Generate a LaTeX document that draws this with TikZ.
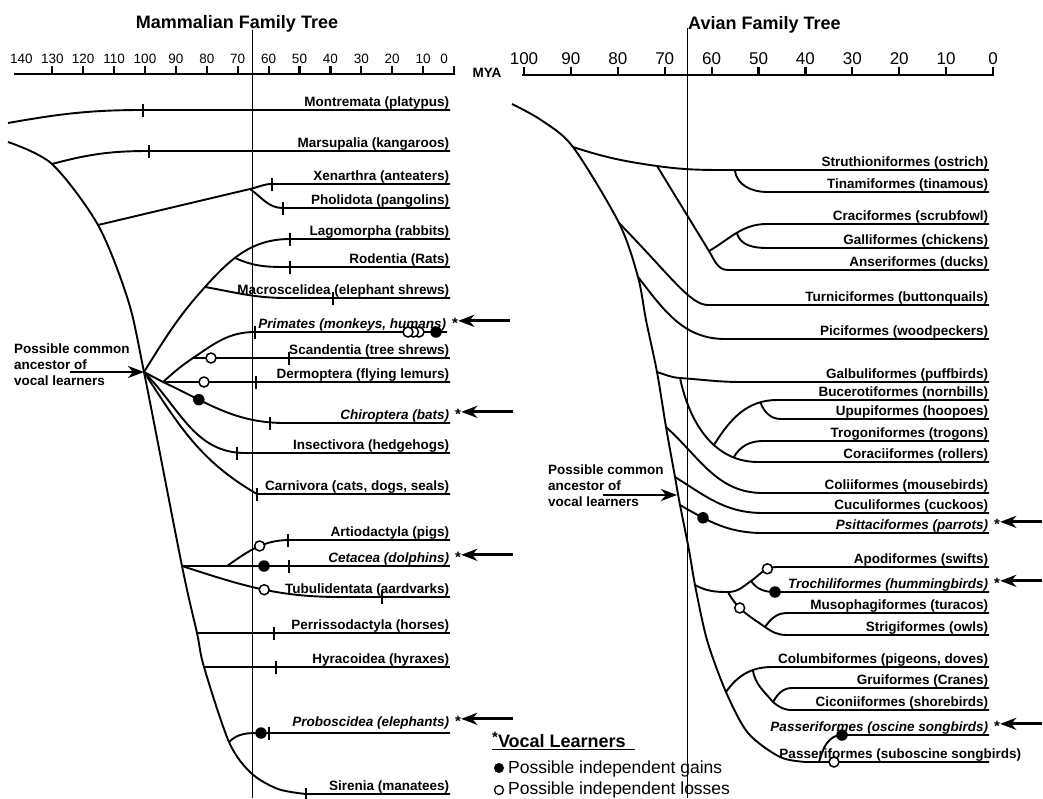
\documentclass[tikz,border=0pt]{standalone}
\usepackage{fontspec}
\setmainfont{Liberation Sans}
\usetikzlibrary{arrows.meta}

\newcommand{\labfont}{\fontsize{13.5}{16}\selectfont\bfseries}

\begin{document}
\begin{tikzpicture}[
    x=1pt, y=-1pt,
    branch/.style={line width=1.9pt},
    brk/.style={line width=1.6pt},
    lbl/.style={anchor=base east, inner sep=0pt, yshift=4pt, font=\labfont},
    vlbl/.style={lbl, font=\labfont\itshape},
    ast/.style={anchor=base west, inner sep=0pt, xshift=5pt, font=\fontsize{15}{16}\selectfont\bfseries},
    gain/.style={circle, fill=black, inner sep=0pt, minimum size=11.5pt},
    loss/.style={circle, draw=black, fill=white, line width=1.5pt, inner sep=0pt, minimum size=10pt},
    vocal/.style={-{Stealth[length=16pt,width=12pt,inset=5pt]}, line width=2.8pt},
    kpg/.style={line width=0.9pt},
    axis/.style={line width=2.6pt},
    axtick/.style={line width=2.2pt},
    anc/.style={align=left, anchor=north west, inner sep=0pt, font=\labfont},
    title/.style={font=\fontsize{18}{20}\selectfont\bfseries, inner sep=0pt}
]
\useasboundingbox (0,0) rectangle (1043,798);

% K-Pg boundary, 65 MYA
\draw[kpg] (252,30) -- (252,798);
\draw[kpg] (687,28) -- (687,798);

% Titles
\node[title, anchor=base] (tMam) at (237,28.5) {Mammalian Family Tree};
\node[title, anchor=base west] (tAvi) at (688,29.5) {Avian Family Tree};

% Time axes
\draw[axis] (14,74) -- (455,74);
\foreach \t in {0,10,...,130}
    \draw[axtick] ({454-3.09*\t},74) -- ++(0,-8);
\foreach \t in {10,20,...,140}
    \node[font=\fontsize{13.5}{15}\selectfont, anchor=base, inner sep=0pt] (mL\t) at ({454-3.09*\t},63.5) {\t};
\node[font=\fontsize{13.5}{15}\selectfont, anchor=base, inner sep=0pt] (mL0) at (444,63.5) {0};
\node[font=\labfont, anchor=base, inner sep=0pt] (mya) at (487,77) {MYA};

\draw[axis] (522,75) -- (994,75);
\foreach \t in {0,10,...,100}
    \draw[axtick] ({993-4.69*\t},75) -- ++(0,-8);
\foreach \t in {0,10,...,100}
    \node[font=\fontsize{17}{19}\selectfont, anchor=base, inner sep=0pt] (aL\t) at ({993-4.69*\t},64) {\t};

% ---------------- Mammals ----------------
\coordinate (eL) at (450,0);
\coordinate (eLp) at (447,0);
\coordinate (T0) at (8,142);
\coordinate (Tmar) at (52,164);
\coordinate (Txen) at (98,225);
\coordinate (T1) at (128,300);
\coordinate (Tanc) at (144,372);
\coordinate (Tcet) at (182,566);
\coordinate (Tper) at (197,633);
\coordinate (Thyr) at (204,667);
\coordinate (Tpro) at (229,742);
\coordinate (T2) at (251,773);
\coordinate (T3) at (278,789);
\coordinate (Tsir) at (306,794);
\draw[branch] plot[smooth] coordinates {(T0) (Tmar) (Txen) (T1) (Tanc) (Tcet) (Tper) (Thyr) (Tpro) (T2) (T3) (Tsir)}
    -- (Tsir -| eL) node[lbl] (lSir) {Sirenia (manatees)};

\coordinate (monA) at (8,123);
\coordinate (monS) at (143,110);
\draw[branch] (monA) to[out=10,in=180] (monS) -- (monS -| eL) node[lbl] (lMon) {Montremata (platypus)};
\coordinate (marS) at (149,151);
\draw[branch] (Tmar) to[out=15,in=180] (marS) -- (marS -| eL) node[lbl] (lMar) {Marsupalia (kangaroos)};

\coordinate (xenN) at (250,189);
\coordinate (xenS) at (272,184);
\coordinate (phoS) at (283,208);
\draw[branch] (Txen) -- (xenN) to[out=12,in=180] (xenS) -- (xenS -| eL) node[lbl] (lXen) {Xenarthra (anteaters)};
\draw[branch] (xenN) to[out=-35,in=180] (phoS) -- (phoS -| eL) node[lbl] (lPho) {Pholidota (pangolins)};

\coordinate (macN) at (205,287);
\coordinate (lagS) at (290,239);
\coordinate (rodS) at (290,267);
\coordinate (macS) at (287,298);
\draw[branch] (Tanc) to[out=58,in=228] (macN) to[out=48,in=180] node[coordinate,pos=0.4] (lagN) {} (lagS)
    -- (lagS -| eL) node[lbl] (lLag) {Lagomorpha (rabbits)};
\draw[branch] (lagN) to[out=-25,in=180] (rodS) -- (rodS -| eL) node[lbl] (lRod) {Rodentia (Rats)};
\draw[branch] (macN) to[out=-10,in=180] (macS) -- (macS -| eL) node[lbl] (lMac) {Macroscelidea (elephant shrews)};

\coordinate (euaN) at (163,382);
\coordinate (scaN) at (193,358);
\coordinate (priS) at (255,332);
\coordinate (chiS) at (285,423);
\draw[branch] (Tanc) -- (euaN) -- (euaN -| eL) node[lbl] (lDer) {Dermoptera (flying lemurs)};
\draw[branch] (euaN) to[out=42,in=214] (scaN) to[out=34,in=180] (priS) -- (priS -| eLp) node[vlbl] (lPri) {Primates (monkeys, humans)};
\draw[branch] (scaN) -- (scaN -| eL) node[lbl] (lSca) {Scandentia (tree shrews)};
\draw[branch] (euaN) to[out=-25,in=180] node[gain,pos=0.29] (gChi) {} (chiS) -- (chiS -| eL) node[vlbl] (lChi) {Chiroptera (bats)};

\coordinate (insS) at (245,453);
\coordinate (carS) at (257,494);
\draw[branch] (Tanc) to[out=-45,in=180] (insS) -- (insS -| eL) node[lbl] (lIns) {Insectivora (hedgehogs)};
\draw[branch] (Tanc) to[out=-57,in=150] (carS) -- (carS -| eL) node[lbl] (lCar) {Carnivora (cats, dogs, seals)};

\coordinate (artN) at (227,566);
\coordinate (artS) at (290,540);
\coordinate (tubS) at (340,597);
\draw[branch] (Tcet) -- (Tcet -| eL) node[vlbl] (lCet) {Cetacea (dolphins)};
\draw[branch] (artN) to[out=35,in=180] node[loss,pos=0.55] (oArt) {} (artS) -- (artS -| eL) node[lbl] (lArt) {Artiodactyla (pigs)};
\draw[branch] (Tcet) to[out=-18,in=180] node[loss,pos=0.53] (oTub) {} (tubS) -- (tubS -| eL) node[lbl] (lTub) {Tubulidentata (aardvarks)};
\draw[branch] (Tper) -- (Tper -| eL) node[lbl] (lPer) {Perrissodactyla (horses)};
\draw[branch] (Thyr) -- (Thyr -| eL) node[lbl] (lHyr) {Hyracoidea (hyraxes)};
\coordinate (proS) at (261,733);
\draw[branch] (Tpro) to[out=45,in=180] (proS) -- (proS -| eL) node[vlbl, yshift=3pt] (lPro) {Proboscidea (elephants)};

% divergence marks
\foreach \x/\y in {143/110,149/151,272/184,283/208,290/239,290/267,333/298,255/332,289/358,256/382,
                   270/423,237/453,257/494,288/540,289/566,382/597,274/633,276/667,269/733,306/794}
    \draw[brk] (\x,\y-6.5) -- (\x,\y+6.5);

% gains and losses
\node[loss] (oSca) at (211,358) {};
\node[loss] (oDer) at (204,382) {};
\node[loss] (oPri3) at (419,332) {};
\node[loss] (oPri2) at (413.5,332) {};
\node[loss] (oPri1) at (408,332) {};
\node[gain] (gPri) at (436,332) {};
\node[gain] (gCet) at (264,566) {};
\node[gain] (gPro) at (proS) {};

% vocal learners
\node[ast] (sPri) at (lPri.base east) {*};
\node[ast] (sChi) at (lChi.base east) {*};
\node[ast] (sCet) at (lCet.base east) {*};
\node[ast] (sPro) at (lPro.base east) {*};
\draw[vocal] ([xshift=52pt,yshift=2pt]sPri.east) -- ([yshift=2pt]sPri.east);
\draw[vocal] ([xshift=52pt,yshift=2pt]sChi.east) -- ([yshift=2pt]sChi.east);
\draw[vocal] ([xshift=52pt,yshift=2pt]sCet.east) -- ([yshift=2pt]sCet.east);
\draw[vocal] ([xshift=52pt,yshift=2pt]sPro.east) -- ([yshift=2pt]sPro.east);

\node[anc] (ancLt) at (14,344) {Possible common\\ancestor of\\vocal learners};
\coordinate (ancLa) at (70,372);
\draw[vocal] (ancLa) -- (Tanc);

% ---------------- Birds ----------------
\coordinate (eR) at (989,0);
\coordinate (R0) at (512,104);
\coordinate (R1) at (541,120);
\coordinate (Rstr) at (573,147);
\coordinate (Rtur) at (619,223);
\coordinate (Rpic) at (638,277);
\coordinate (R2) at (646,320);
\coordinate (Rgal) at (657,372);
\coordinate (Rcol) at (666,427);
\coordinate (Rcuc) at (675,477);
\coordinate (Rpsi) at (680,505);
\coordinate (R3) at (689,550);
\coordinate (Rapo) at (695,585);
\coordinate (R4) at (707,640);
\coordinate (Rclm) at (726,692);
\coordinate (R5) at (748,733);
\coordinate (R6) at (780,757);
\coordinate (Rsub) at (806,762);
\draw[branch] plot[smooth] coordinates {(R0) (R1) (Rstr) (Rtur) (Rpic) (R2) (Rgal) (Rcol) (Rcuc) (Rpsi) (R3) (Rapo) (R4) (Rclm) (R5) (R6) (Rsub)}
    -- (Rsub -| eR) node[lbl, xshift=33pt] (lSub) {Passeriformes (suboscine songbirds)};

\coordinate (galloN) at (657,166);
\coordinate (strN) at (735,170);
\coordinate (tinS) at (767,192);
\draw[branch] (Rstr) to[out=-18,in=172] (galloN) to[out=-8,in=180] (strN) -- (strN -| eR) node[lbl] (lStr) {Struthioniformes (ostrich)};
\draw[branch] (strN) to[out=-85,in=180] (tinS) -- (tinS -| eR) node[lbl] (lTin) {Tinamiformes (tinamous)};

\coordinate (ansN) at (709,251);
\coordinate (ansS) at (728,270);
\coordinate (craS) at (767,224);
\coordinate (galS) at (767,248);
\draw[branch] (galloN) -- (ansN) to[out=-59,in=180] (ansS) -- (ansS -| eR) node[lbl] (lAns) {Anseriformes (ducks)};
\draw[branch] (ansN) to[out=30,in=180] node[coordinate,pos=0.5] (galN) {} (craS) -- (craS -| eR) node[lbl] (lCra) {Craciformes (scrubfowl)};
\draw[branch] (galN) to[out=-75,in=180] (galS) -- (galS -| eR) node[lbl] (lGal) {Galliformes (chickens)};

\coordinate (turS) at (708,305);
\coordinate (picS) at (725,339);
\draw[branch] (Rtur) .. controls (670,275) and (690,305) .. (turS) -- (turS -| eR) node[lbl] (lTur) {Turniciformes (buttonquails)};
\draw[branch] (Rpic) to[out=-52,in=180] (picS) -- (picS -| eR) node[lbl] (lPic) {Piciformes (woodpeckers)};

\coordinate (bigN) at (680,378);
\coordinate (galbS) at (742,382);
\coordinate (corS) at (758,462);
\coordinate (bucS) at (777,400);
\coordinate (upuS) at (781,419);
\coordinate (troS) at (763,441);
\draw[branch] (Rgal) to[out=-18,in=176] (bigN) to[out=-4,in=180] (galbS) -- (galbS -| eR) node[lbl] (lGalb) {Galbuliformes (puffbirds)};
\draw[branch] (bigN) to[out=-78,in=180] node[coordinate,pos=0.6] (bucN) {} node[coordinate,pos=0.8] (trgN) {} (corS)
    -- (corS -| eR) node[lbl] (lCor) {Coraciiformes (rollers)};
\draw[branch] (bucN) to[out=58,in=180] node[coordinate,pos=0.8] (upuN) {} (bucS) -- (bucS -| eR) node[lbl] (lBuc) {Bucerotiformes (nornbills)};
\draw[branch] (upuN) to[out=-70,in=180] (upuS) -- (upuS -| eR) node[lbl] (lUpu) {Upupiformes (hoopoes)};
\draw[branch] (trgN) to[out=60,in=180] (troS) -- (troS -| eR) node[lbl] (lTro) {Trogoniformes (trogons)};

\coordinate (colS) at (763,493);
\coordinate (cucS) at (763,513);
\coordinate (psiS) at (763,533);
\draw[branch] (Rcol) to[out=-42,in=180] (colS) -- (colS -| eR) node[lbl] (lCol) {Coliiformes (mousebirds)};
\draw[branch] (Rcuc) to[out=-32,in=180] (cucS) -- (cucS -| eR) node[lbl] (lCuc) {Cuculiformes (cuckoos)};
\draw[branch] (Rpsi) to[out=-30,in=180] node[gain,pos=0.28] (gPsi) {} (psiS) -- (psiS -| eR) node[vlbl] (lPsi) {Psittaciformes (parrots)};

\coordinate (capN) at (728,592);
\coordinate (apoN) at (751,581);
\coordinate (apoS) at (776,567);
\coordinate (trcS) at (775,592);
\coordinate (musN) at (765,627);
\coordinate (musS) at (787,613);
\coordinate (strgS) at (787,635);
\draw[branch] (Rapo) to[out=-28,in=180] (capN) to[out=0,in=215] (apoN) to[out=35,in=180] node[loss,pos=0.7] (oApo) {} (apoS)
    -- (apoS -| eR) node[lbl] (lApo) {Apodiformes (swifts)};
\draw[branch] (apoN) to[out=-55,in=180] (trcS) -- (trcS -| eR) node[vlbl] (lTrc) {Trochiliformes (hummingbirds)};
\node[gain] (gTrc) at (trcS) {};
\draw[branch] (capN) to[out=-62,in=145] node[loss,pos=0.38] (oMus) {} (musN) to[out=-35,in=180] (strgS)
    -- (strgS -| eR) node[lbl] (lStrg) {Strigiformes (owls)};
\draw[branch] (musN) to[out=55,in=180] (musS) -- (musS -| eR) node[lbl] (lMus) {Musophagiformes (turacos)};

\coordinate (clmS) at (772,667);
\coordinate (ciN) at (773,702);
\coordinate (gruS) at (792,688);
\coordinate (cicS) at (792,710);
\draw[branch] (Rclm) to[out=55,in=180] node[coordinate,pos=0.65] (gruN) {} (clmS) -- (clmS -| eR) node[lbl] (lClm) {Columbiformes (pigeons, doves)};
\draw[branch] (gruN) to[out=-80,in=130] (ciN) to[out=-40,in=180] (cicS) -- (cicS -| eR) node[lbl] (lCic) {Ciconiiformes (shorebirds)};
\draw[branch] (ciN) to[out=60,in=180] (gruS) -- (gruS -| eR) node[lbl] (lGru) {Gruiformes (Cranes)};

\coordinate (pasN) at (819,762);
\coordinate (pasS) at (842,735);
\draw[branch] (pasN) to[out=75,in=180] (pasS) -- (pasS -| eR) node[vlbl] (lPas) {Passeriformes (oscine songbirds)};
\node[gain] (gPas) at (pasS) {};
\node[loss] (oSub) at (834,762) {};

% vocal learners
\node[ast] (sPsi) at (lPsi.base east) {*};
\node[ast] (sTrc) at (lTrc.base east) {*};
\node[ast] (sPas) at (lPas.base east) {*};
\draw[vocal] ([xshift=42pt,yshift=2pt]sPsi.east) -- ([yshift=2pt]sPsi.east);
\draw[vocal] ([xshift=42pt,yshift=2pt]sTrc.east) -- ([yshift=2pt]sTrc.east);
\draw[vocal] ([xshift=42pt,yshift=2pt]sPas.east) -- ([yshift=2pt]sPas.east);

\node[anc] (ancRt) at (548,465) {Possible common\\ancestor of\\vocal learners};
\coordinate (ancRa) at (603,495);
\coordinate (ancR) at (677,495);
\draw[vocal] (ancRa) -- (ancR);

% Legend
\node[anchor=base west, inner sep=0pt, font=\fontsize{18}{20}\selectfont\bfseries] (legT) at (492,747)
    {\raisebox{5pt}{\fontsize{15}{16}\selectfont*}Vocal Learners};
\draw[line width=1.5pt] ([yshift=-2.5pt]legT.base west) -- ([xshift=9pt,yshift=-2.5pt]legT.base east);
\node[gain, minimum size=10pt] (legG) at (499,768) {};
\node[anchor=base west, inner sep=0pt, font=\fontsize{17.5}{20}\selectfont] (legGt) at (508,773) {Possible independent gains};
\node[loss, minimum size=9pt, line width=1.3pt] (legL) at (499,790) {};
\node[anchor=base west, inner sep=0pt, font=\fontsize{17.5}{20}\selectfont] (legLt) at (508,794.5) {Possible independent losses};
\end{tikzpicture}
\end{document}
